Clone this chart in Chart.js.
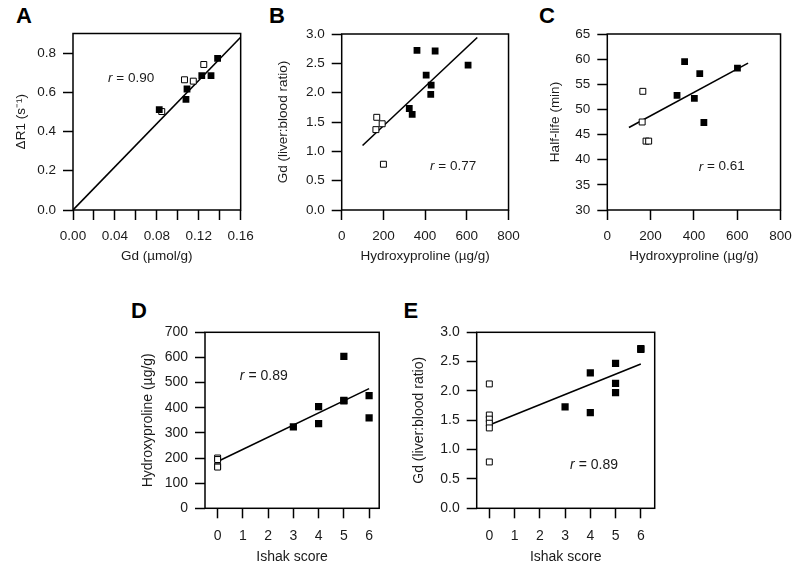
<!DOCTYPE html>
<html><head><meta charset="utf-8">
<script src="https://cdn.jsdelivr.net/npm/chart.js@4/dist/chart.umd.min.js"></script>
<style>
body{margin:0;background:#fff;width:800px;height:567px;position:relative;overflow:hidden;font-family:"Liberation Sans",Arial,sans-serif}
canvas{position:absolute}
.lab{position:absolute;font:bold 22px "Liberation Sans",Arial,sans-serif;line-height:1;color:#000}
</style></head><body>
<div class="lab" style="left:16px;top:4.7px">A</div>
<div class="lab" style="left:269px;top:4.7px">B</div>
<div class="lab" style="left:539px;top:4.7px">C</div>
<div class="lab" style="left:131px;top:299.7px">D</div>
<div class="lab" style="left:403.5px;top:299.7px">E</div>
<canvas id="cA"></canvas><canvas id="cB"></canvas><canvas id="cC"></canvas><canvas id="cD"></canvas><canvas id="cE"></canvas>
<script>
// ---- Panel A: ΔR1 vs Gd ----
const aGdFilled = [0.0823, 0.1078, 0.1088, 0.1229, 0.1317, 0.1380];
const aR1Filled = [0.512, 0.564, 0.617, 0.685, 0.685, 0.773];
const aGdOpen = [0.0847, 0.1064, 0.1148, 0.1248];
const aR1Open = [0.502, 0.664, 0.657, 0.742];
const aFitX = [0, 0.16];
const aFitY = [0, 0.881];
const aXTicks = [0, 0.02, 0.04, 0.06, 0.08, 0.10, 0.12, 0.14, 0.16];
const aYTicks = [0, 0.2, 0.4, 0.6, 0.8];
// ---- Panel B: Gd liver:blood vs hydroxyproline ----
const bHypFilled = [361, 448, 606, 405, 429, 427, 324, 338];
const bRatioFilled = [2.72, 2.71, 2.47, 2.30, 2.13, 1.97, 1.73, 1.63];
const bHypOpen = [168, 164, 194, 200];
const bRatioOpen = [1.58, 1.37, 1.47, 0.78];
const bFitX = [100, 650];
const bFitY = [1.10, 2.94];
const hypTicks = [0, 200, 400, 600, 800];
const ratioTicks = [0, 0.5, 1.0, 1.5, 2.0, 2.5, 3.0];
// ---- Panel C: half-life vs hydroxyproline ----
const cHypFilled = [357, 427, 601, 322, 402, 446];
const cHalfFilled = [59.5, 57.1, 58.2, 52.8, 52.2, 47.4];
const cHypOpen = [164, 161, 179, 191];
const cHalfOpen = [53.6, 47.5, 43.7, 43.7];
const cFitX = [100, 650];
const cFitY = [46.4, 59.2];
const halfTicks = [30, 35, 40, 45, 50, 55, 60, 65];
// ---- Panel D: hydroxyproline vs Ishak ----
const dScoreFilled = [3, 4, 4, 5, 5, 5, 6, 6];
const dHypFilled = [324, 404, 337, 604, 427, 429, 448, 360];
const dScoreOpen = [0, 0, 0, 0];
const dHypOpen = [200, 194, 168, 164];
const dFitX = [0, 6];
const dFitY = [186, 476];
const ishakTicks = [0, 1, 2, 3, 4, 5, 6];
const dYTicks = [0, 100, 200, 300, 400, 500, 600, 700];
// ---- Panel E: Gd liver:blood vs Ishak ----
const eScoreFilled = [3, 4, 4, 5, 5, 5, 6, 6];
const eRatioFilled = [1.73, 2.31, 1.63, 2.47, 2.13, 1.97, 2.72, 2.71];
const eScoreOpen = [0, 0, 0, 0, 0, 0];
const eRatioOpen = [2.12, 1.59, 1.52, 1.45, 1.37, 0.79];
const eFitX = [0, 6];
const eFitY = [1.42, 2.46];

const FAM = '"Liberation Sans", Arial, sans-serif';
const TXT = '#1a1a1a';
Chart.defaults.font.family = FAM;

const pts = (xs, ys) => xs.map((x, i) => ({x, y: ys[i]}));

const framePlugin = {
  id: 'frame',
  afterDatasetsDraw(chart) {
    const a = chart.chartArea, c = chart.ctx;
    c.save(); c.strokeStyle = '#000'; c.lineWidth = 1.5;
    c.strokeRect(a.left, a.top, a.right - a.left, a.bottom - a.top);
    c.restore();
  }
};
const rPlugin = {
  id: 'rtext',
  afterDatasetsDraw(chart, args, o) {
    if (!o || o.text === undefined) return;
    const c = chart.ctx;
    const x = chart.scales.x.getPixelForValue(o.x);
    const y = chart.scales.y.getPixelForValue(o.y);
    c.save(); c.fillStyle = TXT; c.textBaseline = 'middle'; c.textAlign = 'left';
    c.font = 'italic ' + o.size + 'px ' + FAM;
    c.fillText('r', x, y);
    const w = c.measureText('r').width;
    c.font = o.size + 'px ' + FAM;
    c.fillText(' = ' + o.text, x + w, y);
    c.restore();
  }
};

function panel(id, cfg) {
  const cv = document.getElementById(id);
  const [cx, cy, cw, ch] = cfg.canvas;
  const [pl, pt, pr, pb] = cfg.plot;
  cv.style.left = cx + 'px'; cv.style.top = cy + 'px';
  cv.width = cw; cv.height = ch;
  cv.style.width = cw + 'px'; cv.style.height = ch + 'px';
  const yW = pl - cx, xH = cy + ch - pb;
  const fs = cfg.fs;
  const half = fs * 0.6;
  cfg.r.size = fs;
  const grid = {display: true, drawOnChartArea: false, drawTicks: true, tickLength: 10, tickWidth: 1.5, tickColor: '#000'};
  new Chart(cv, {
    type: 'scatter',
    data: {datasets: [
      {data: pts(cfg.fx, cfg.fy), pointStyle: 'rect', pointRadius: cfg.pr, backgroundColor: '#000', borderColor: '#000', borderWidth: 0},
      {data: pts(cfg.ox, cfg.oy), pointStyle: 'rect', pointRadius: 4.2, backgroundColor: '#fff', borderColor: '#000', borderWidth: 1},
      {data: pts(cfg.lx, cfg.ly), showLine: true, pointRadius: 0, borderColor: '#000', borderWidth: 1.6, fill: false}
    ]},
    options: {
      responsive: false, animation: false, devicePixelRatio: 1,
      layout: {padding: {left: 0, top: pt - cy, right: cx + cw - pr, bottom: 0}},
      plugins: {legend: {display: false}, tooltip: {enabled: false}, rtext: cfg.r},
      scales: {
        x: {
          type: 'linear', min: cfg.xmin, max: cfg.xmax,
          afterBuildTicks: s => { s.ticks = cfg.xt.map(v => ({value: v})); },
          afterFit: s => { s.height = xH; },
          grid: grid, border: {display: false},
          ticks: {autoSkip: false, maxRotation: 0, padding: cfg.xLabelMid - 10 - half, color: TXT, font: {size: fs}, callback: cfg.xfmt},
          title: {display: true, text: cfg.xtitle, color: TXT, font: {size: fs}, padding: {top: 0, bottom: cfg.xTitleOff - half}}
        },
        y: {
          type: 'linear', min: cfg.ymin, max: cfg.ymax,
          afterBuildTicks: s => { s.ticks = cfg.yt.map(v => ({value: v})); },
          afterFit: s => { s.width = yW; },
          grid: grid, border: {display: false},
          ticks: {autoSkip: false, padding: 7, color: TXT, font: {size: fs}, callback: cfg.yfmt},
          title: {display: true, text: cfg.ytitle, color: TXT, font: {size: fs}, padding: {top: cfg.yTitleX - half, bottom: 0}}
        }
      }
    },
    plugins: [framePlugin, rPlugin]
  });
}

const f1 = v => Number(v).toFixed(1);
const f0 = v => String(Math.round(v));

panel('cA', {canvas: [0, 0, 262, 275], plot: [73, 33.5, 250, 210], fs: 13.5, pr: 4.8,
  fx: aGdFilled, fy: aR1Filled, ox: aGdOpen, oy: aR1Open, lx: aFitX, ly: aFitY,
  xmin: 0, xmax: 0.16, xt: aXTicks, ymin: 0, ymax: 0.9, yt: aYTicks,
  xfmt: (v, i) => (i % 2 ? '' : Number(v).toFixed(2)), yfmt: f1,
  xtitle: 'Gd (µmol/g)', ytitle: 'ΔR1 (s⁻¹)', xLabelMid: 26.3, xTitleOff: 19, yTitleX: 21.7,
  r: {x: 0.0334, y: 0.673, text: '0.90'}});

panel('cB', {canvas: [262, 0, 266, 275], plot: [341.7, 34, 517.7, 210], fs: 13.5, pr: 4.8,
  fx: bHypFilled, fy: bRatioFilled, ox: bHypOpen, oy: bRatioOpen, lx: bFitX, ly: bFitY,
  xmin: 0, xmax: 800, xt: hypTicks, ymin: 0, ymax: 3, yt: ratioTicks,
  xfmt: f0, yfmt: f1,
  xtitle: 'Hydroxyproline (µg/g)', ytitle: 'Gd (liver:blood ratio)', xLabelMid: 26.3, xTitleOff: 19, yTitleX: 21.3,
  r: {x: 424, y: 0.738, text: '0.77'}});

panel('cC', {canvas: [528, 0, 272, 275], plot: [607.3, 34, 783, 210], fs: 13.5, pr: 4.8,
  fx: cHypFilled, fy: cHalfFilled, ox: cHypOpen, oy: cHalfOpen, lx: cFitX, ly: cFitY,
  xmin: 0, xmax: 800, xt: hypTicks, ymin: 30, ymax: 65, yt: halfTicks,
  xfmt: f0, yfmt: f0,
  xtitle: 'Hydroxyproline (µg/g)', ytitle: 'Half-life (min)', xLabelMid: 26.3, xTitleOff: 19, yTitleX: 27,
  r: {x: 422, y: 38.6, text: '0.61'}});

panel('cD', {canvas: [118, 290, 272, 277], plot: [205, 332.3, 379.2, 508.3], fs: 14, pr: 5.1,
  fx: dScoreFilled, fy: dHypFilled, ox: dScoreOpen, oy: dHypOpen, lx: dFitX, ly: dFitY,
  xmin: -0.5, xmax: 6.4, xt: ishakTicks, ymin: 0, ymax: 700, yt: dYTicks,
  xfmt: f0, yfmt: f0,
  xtitle: 'Ishak score', ytitle: 'Hydroxyproline (µg/g)', xLabelMid: 27.7, xTitleOff: 10.3, yTitleX: 30,
  r: {x: 0.88, y: 527, text: '0.89'}});

panel('cE', {canvas: [395, 290, 270, 277], plot: [476.7, 332.3, 654.7, 508.3], fs: 14, pr: 5.1,
  fx: eScoreFilled, fy: eRatioFilled, ox: eScoreOpen, oy: eRatioOpen, lx: eFitX, ly: eFitY,
  xmin: -0.5, xmax: 6.55, xt: ishakTicks, ymin: 0, ymax: 3, yt: ratioTicks,
  xfmt: f0, yfmt: f1,
  xtitle: 'Ishak score', ytitle: 'Gd (liver:blood ratio)', xLabelMid: 27.7, xTitleOff: 10.3, yTitleX: 23.7,
  r: {x: 3.2, y: 0.738, text: '0.89'}});
</script>
</body></html>
